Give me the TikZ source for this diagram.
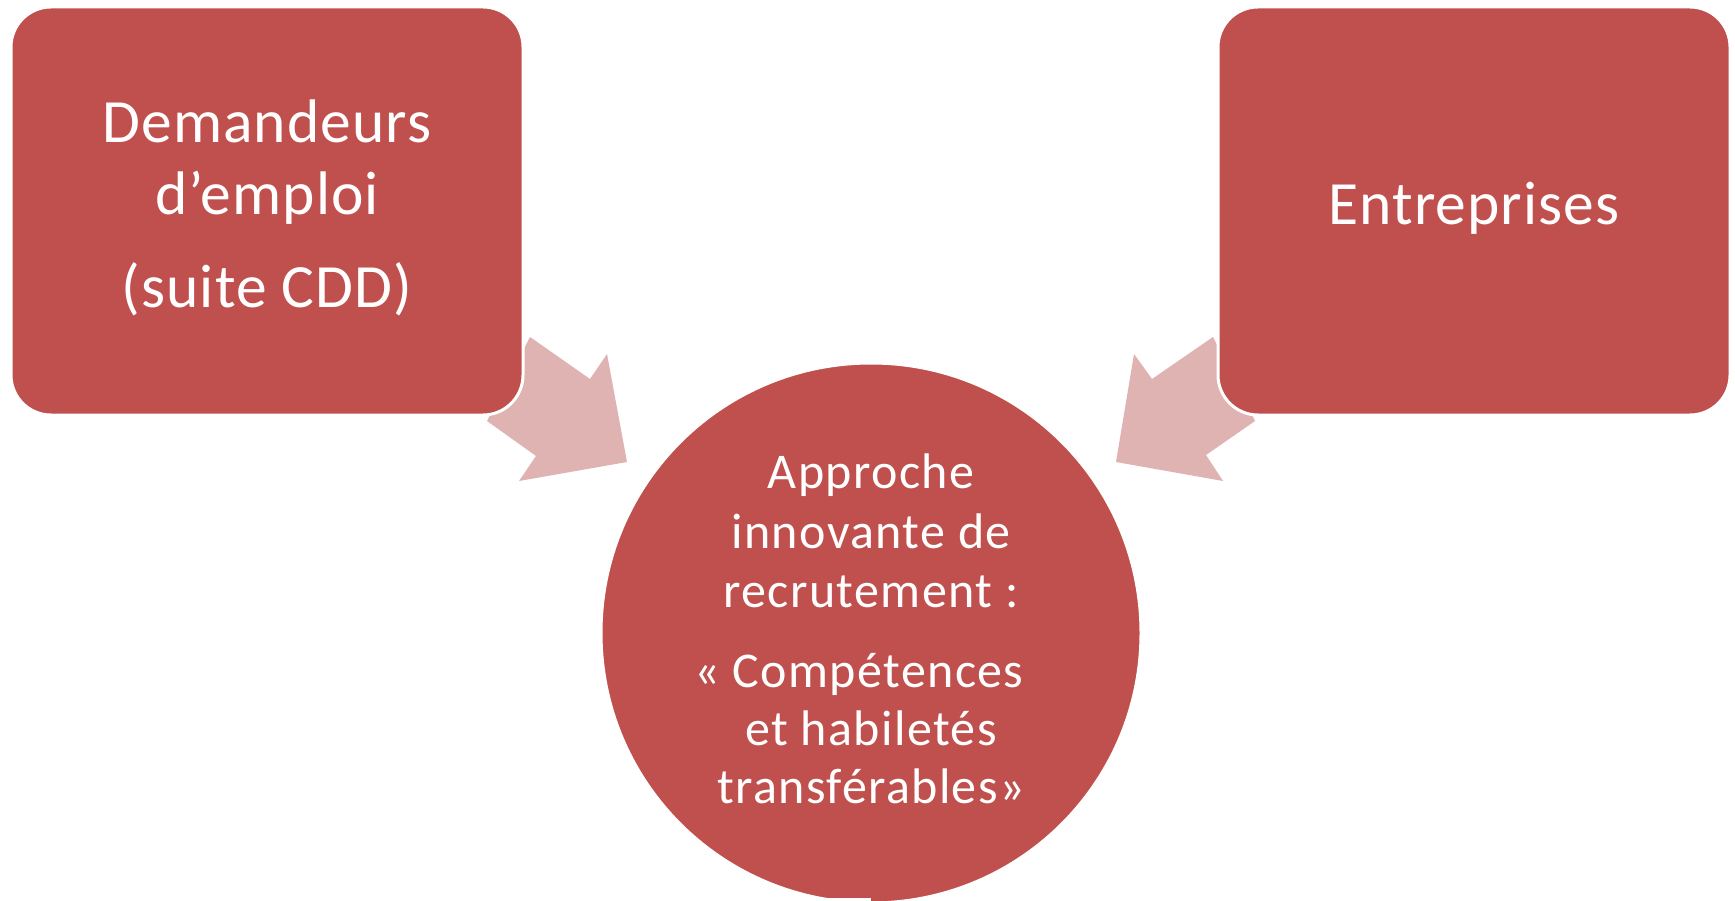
\documentclass[tikz,border=0pt]{standalone}
\usepackage{fontspec}
\setmainfont{Carlito}
\newfontfamily\boxfont[LetterSpace=1.8]{Carlito}
\newfontfamily\circfont[LetterSpace=2.8]{Carlito}
\definecolor{boxred}{HTML}{C0504D}
\definecolor{arrowpink}{HTML}{DEB3B2}
\begin{document}
\begin{tikzpicture}[x=1pt,y=-1pt,
  box/.style={draw=white, line width=3pt, fill=boxred, rounded corners=40pt,
              minimum width=512pt, minimum height=408pt, inner sep=0pt},
  bigcircle/.style={circle, draw=white, line width=3pt, fill=boxred,
              minimum size=540pt, inner sep=0pt},
  blockarrow/.style={fill=arrowpink, draw=none},
  boxtxt/.style={text=white, anchor=base, inner sep=0pt, font=\boxfont\fontsize{61.5}{70}\selectfont},
  circtxt/.style={text=white, anchor=base, inner sep=0pt, font=\circfont\fontsize{50}{58}\selectfont}]
\fill[white] (0,0) rectangle (1735,901);
\useasboundingbox (0,0) rectangle (1735,901);
% block arrows (behind the shapes)
\fill[blockarrow] (530,337) -- (590,379) -- (607,354) -- (627,462) -- (519,481) -- (536,456) -- (487,421) -- cycle;
\fill[blockarrow] (1213,337) -- (1152,379) -- (1134,354) -- (1116,462) -- (1223,481) -- (1206,455) -- (1255,421) -- cycle;
% shapes
\node[box] (dem) at (267,211) {};
\node[box] (ent) at (1474,211) {};
\node[bigcircle] (app) at (871,633) {};
\fill[white] (800,898) rectangle (871,901);
% texts
\node[boxtxt] (dem1) at (267,143) {Demandeurs};
\node[boxtxt] (dem2) at (267,215) {d’emploi};
\node[boxtxt] (dem3) at (267,308) {(suite CDD)};
\node[boxtxt] (ent1) at (1474,225) {Entreprises};
\node[circtxt] (app1) at (871,488) {Approche};
\node[circtxt] (app2) at (871,548) {innovante de};
\node[circtxt] (app3) at (871,607) {recrutement :};
\node[circtxt] (app4) at (859,687) {« Compétences};
\node[circtxt] (app5) at (871,745) {et habiletés};
\node[circtxt] (app6) at (871,803) {transférables»};
\end{tikzpicture}
\end{document}
